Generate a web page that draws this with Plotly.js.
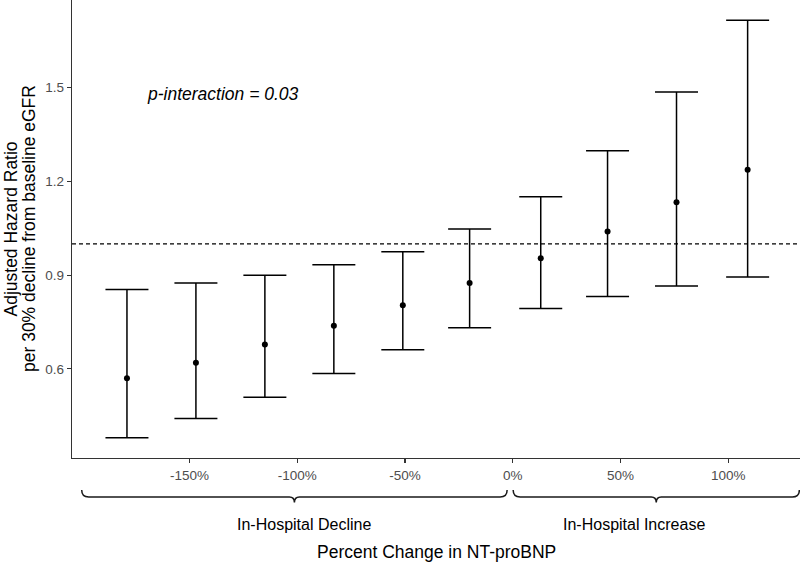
<!DOCTYPE html>
<html>
<head>
<meta charset="utf-8">
<script src="https://cdn.plot.ly/plotly-3.0.1.min.js"></script>
<style>
  html, body { margin: 0; padding: 0; background: #fff; }
  #chart { width: 800px; height: 563px; }
</style>
</head>
<body>
<div id="chart"></div>
<script>
// percent change in NT-proBNP (group position) and adjusted HR with 95% CI
var pctChange = [-179, -147, -115, -83, -51, -20, 13, 44, 76, 109];
var hr    = [0.570, 0.620, 0.678, 0.738, 0.804, 0.875, 0.954, 1.040, 1.133, 1.237];
var upper = [0.854, 0.875, 0.900, 0.933, 0.975, 1.048, 1.151, 1.298, 1.486, 1.716];
var lower = [0.380, 0.441, 0.509, 0.585, 0.661, 0.732, 0.793, 0.832, 0.865, 0.894];

var xTicks = [-150, -100, -50, 0, 50, 100];
var xTickText = ['-150%', '-100%', '-50%', '0%', '50%', '100%'];
var yTicks = [0.6, 0.9, 1.2, 1.5];
var yTickText = ['0.6', '0.9', '1.2', '1.5'];

// brace groups under the x axis
var groupNames = ['In-Hospital Decline', 'In-Hospital Increase'];
var groupStart = [-200, 0.2];
var groupEnd   = [-2.6, 133];
var groupLabelX = [-97, 56.5];

var xRange = [-204.5, 133.3];
var yRange = [0.315, 1.7805];
var H = 563, mB = 105, mL = 72, W = 800;
var plotH = H - mB;

function px(x) { return (x - xRange[0]) / (xRange[1] - xRange[0]); }
function py(pix) { return (plotH - pix) / plotH; }   // pixel row -> paper y

var errPlus = hr.map(function (v, i) { return upper[i] - v; });
var errMinus = hr.map(function (v, i) { return v - lower[i]; });

var trace = {
  x: pctChange,
  y: hr,
  type: 'scatter',
  mode: 'markers',
  marker: { color: '#000000', size: 6 },
  error_y: {
    type: 'data',
    symmetric: false,
    array: errPlus,
    arrayminus: errMinus,
    color: '#000000',
    thickness: 1.5,
    width: 21.5
  },
  hoverinfo: 'x+y'
};

var shapes = [{
  type: 'line', xref: 'paper', yref: 'y',
  x0: 0, x1: 1, y0: 1, y1: 1,
  line: { color: '#000000', width: 1.3, dash: '4px,3px' },
  layer: 'below'
}];

function brace(a, b) {
  var xa = px(a), xb = px(b), xm = (xa + xb) / 2;
  var d = 7 / (W - mL), t = 5 / (W - mL);
  var yTop = py(490), yMid = py(497), yTip = py(502.5);
  return 'M' + xa + ',' + yTop +
    ' Q' + xa + ',' + yMid + ' ' + (xa + d) + ',' + yMid +
    ' L' + (xm - t) + ',' + yMid +
    ' Q' + xm + ',' + yMid + ' ' + xm + ',' + yTip +
    ' Q' + xm + ',' + yMid + ' ' + (xm + t) + ',' + yMid +
    ' L' + (xb - d) + ',' + yMid +
    ' Q' + xb + ',' + yMid + ' ' + xb + ',' + yTop;
}

var annotations = [];
groupNames.forEach(function (name, i) {
  shapes.push({
    type: 'path', xref: 'paper', yref: 'paper',
    path: brace(groupStart[i], groupEnd[i]),
    line: { color: '#1a1a1a', width: 1.5 }
  });
  annotations.push({
    text: name, xref: 'paper', yref: 'paper',
    x: px(groupLabelX[i]), y: py(524),
    xanchor: 'center', yanchor: 'middle', showarrow: false,
    font: { family: 'Liberation Sans, Arial, sans-serif', size: 16, color: '#000000' }
  });
});

annotations.push({
  text: '<i>p-interaction = 0.03</i>', xref: 'paper', yref: 'paper',
  x: (145 - mL) / (W - mL), y: py(94),
  xanchor: 'left', yanchor: 'middle', showarrow: false,
  font: { family: 'Liberation Sans, Arial, sans-serif', size: 17.5, color: '#000000' }
});

annotations.push({
  text: 'Percent Change in NT-proBNP', xref: 'paper', yref: 'paper',
  x: 0.5, y: py(551.5),
  xanchor: 'center', yanchor: 'middle', showarrow: false,
  font: { family: 'Liberation Sans, Arial, sans-serif', size: 17.5, color: '#000000' }
});

annotations.push({
  text: 'Adjusted Hazard Ratio', xref: 'paper', yref: 'paper',
  x: (10.5 - mL) / (W - mL), y: 0.5, textangle: -90,
  xanchor: 'center', yanchor: 'middle', showarrow: false,
  font: { family: 'Liberation Sans, Arial, sans-serif', size: 17.5, color: '#000000' }
});
annotations.push({
  text: 'per 30% decline from baseline eGFR', xref: 'paper', yref: 'paper',
  x: (29 - mL) / (W - mL), y: 0.5, textangle: -90,
  xanchor: 'center', yanchor: 'middle', showarrow: false,
  font: { family: 'Liberation Sans, Arial, sans-serif', size: 17.5, color: '#000000' }
});

var axisFont = { family: 'Liberation Sans, Arial, sans-serif', size: 13.5, color: '#4d4d4d' };

var layout = {
  width: W,
  height: H,
  margin: { l: mL, r: 0, t: 0, b: mB, pad: 0 },
  paper_bgcolor: '#ffffff',
  plot_bgcolor: '#ffffff',
  showlegend: false,
  xaxis: {
    range: xRange,
    tickvals: xTicks,
    ticktext: xTickText,
    showgrid: false,
    zeroline: false,
    showline: true,
    linecolor: '#333333',
    linewidth: 1.3,
    ticks: 'outside',
    ticklen: 4,
    tickwidth: 1.1,
    tickcolor: '#333333',
    tickfont: axisFont,
    automargin: false
  },
  yaxis: {
    range: yRange,
    tickvals: yTicks,
    ticktext: yTickText,
    showgrid: false,
    zeroline: false,
    showline: true,
    linecolor: '#333333',
    linewidth: 1.3,
    ticks: 'outside',
    ticklen: 4,
    tickwidth: 1.1,
    tickcolor: '#333333',
    tickfont: axisFont,
    automargin: false
  },
  shapes: shapes,
  annotations: annotations
};

Plotly.newPlot('chart', [trace], layout, { displayModeBar: false, staticPlot: true });
</script>
</body>
</html>
